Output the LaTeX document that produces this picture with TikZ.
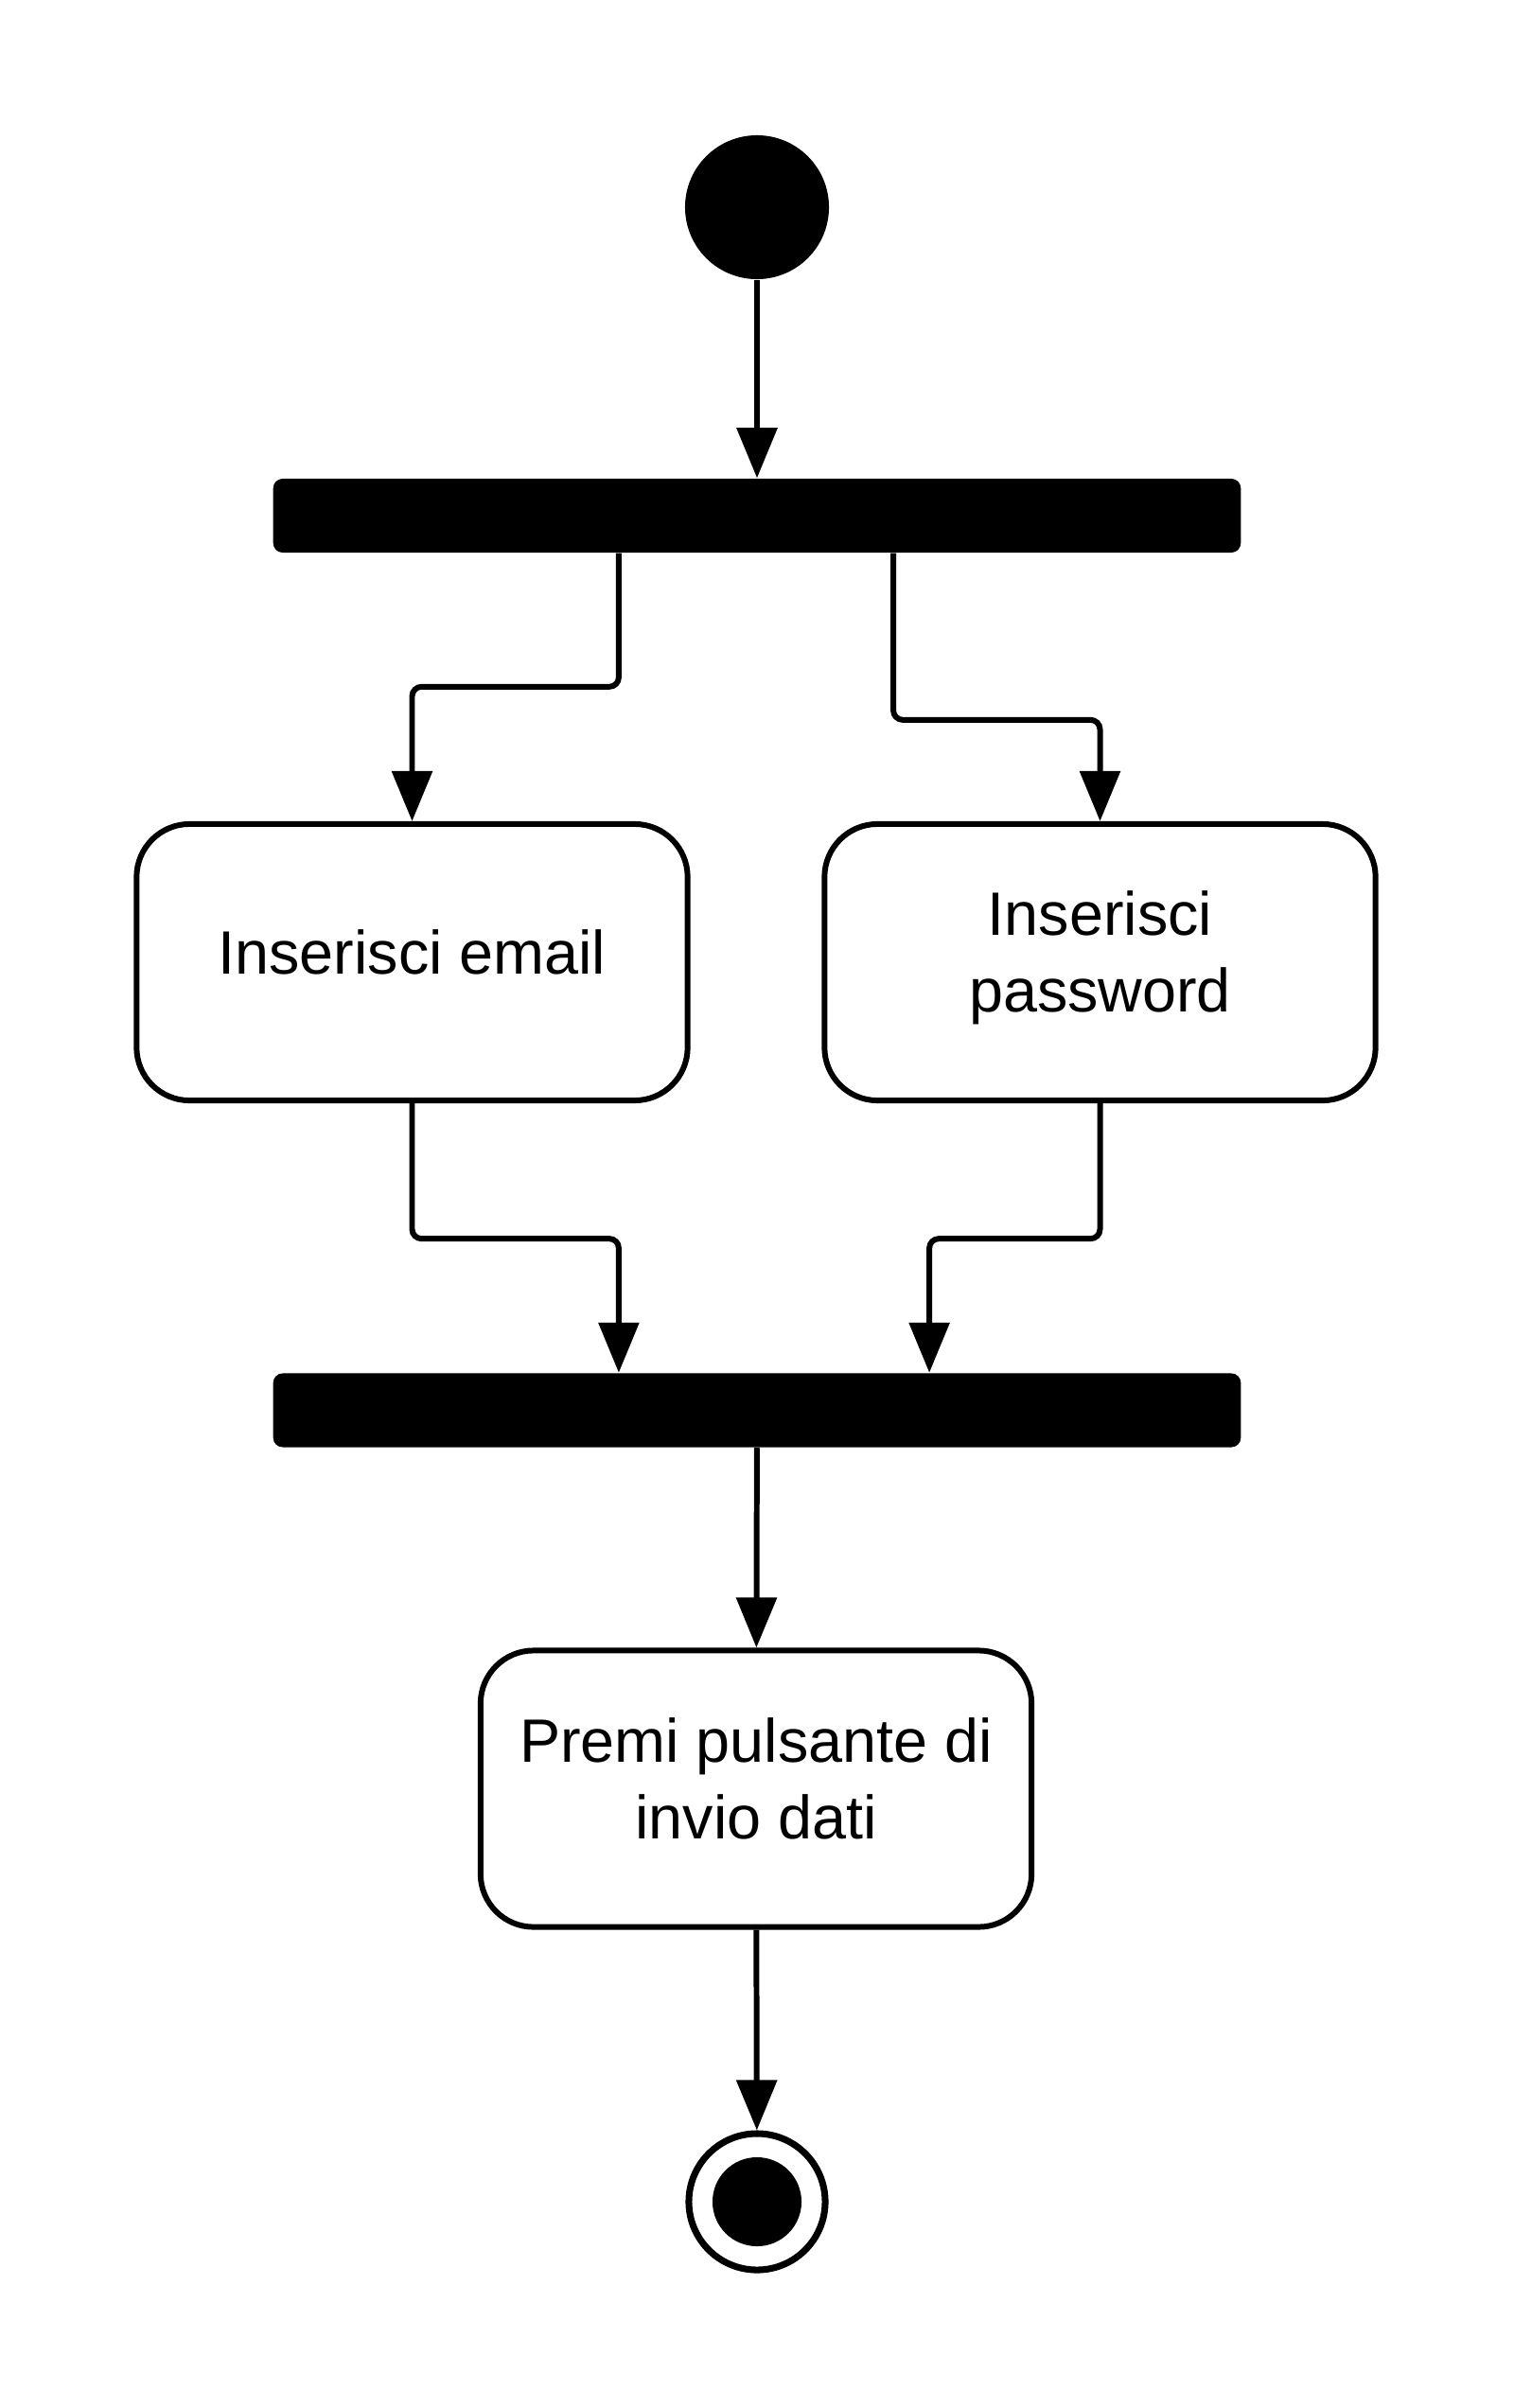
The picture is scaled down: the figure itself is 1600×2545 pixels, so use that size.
\documentclass[tikz,border=0pt]{standalone}
\usepackage{fontspec}
\setmainfont{Liberation Sans}
\usepackage{tikz}
\usetikzlibrary{positioning,calc,arrows.meta}

\begin{document}
\begin{tikzpicture}[x=0.01cm, y=-0.01cm,
  initial/.style={circle, fill=black, minimum size=15.2mm, inner sep=0pt},
  final/.style={circle, draw=black, line width=2pt, minimum size=14.4mm, inner sep=0pt},
  bar/.style={rectangle, fill=black, rounded corners=1mm, minimum width=102.2mm, minimum height=7.8mm, inner sep=0pt},
  action/.style={rectangle, draw=black, line width=1.7pt, rounded corners=5.6mm, minimum width=58.2mm, minimum height=29.2mm, inner sep=0pt, align=center, text depth=6.3pt, font=\fontsize{18.4}{23}\selectfont},
  flow/.style={-{Triangle[length=5.3mm, width=4.2mm]}, line width=1.7pt, rounded corners=1mm}
]
\useasboundingbox (0,0) rectangle (1600,2545);
\node[initial] (start) at (800,219) {};
\node[bar] (fork) at (800,545) {};
\node[action] (email) at (435.5,1017) {Inserisci email};
\node[action] (pwd) at (1162.5,1017) {Inserisci\\password};
\node[bar] (join) at (800,1490.5) {};
\node[action] (submit) at (799,1890.5) {Premi pulsante di\\invio dati};
\node[final] (end) at (800,2327) {};
\fill (end.center) circle (4.7mm);
\draw[flow] (start) -- (fork);
\draw[flow] ([xshift=-14.6mm]fork.south) -- ++(0,-14.1mm) -| (email.north);
\draw[flow] ([xshift=14.4mm]fork.south) -- ++(0,-17.6mm) -| (pwd.north);
\draw[flow] (email.south) -- ++(0,-14.3mm) -| ([xshift=-14.6mm]join.north);
\draw[flow] (pwd.south) -- ++(0,-14.3mm) -| ([xshift=18.2mm]join.north);
\draw[flow] (join) -- (submit);
\draw[flow] (submit) -- (end);
\end{tikzpicture}
\end{document}
